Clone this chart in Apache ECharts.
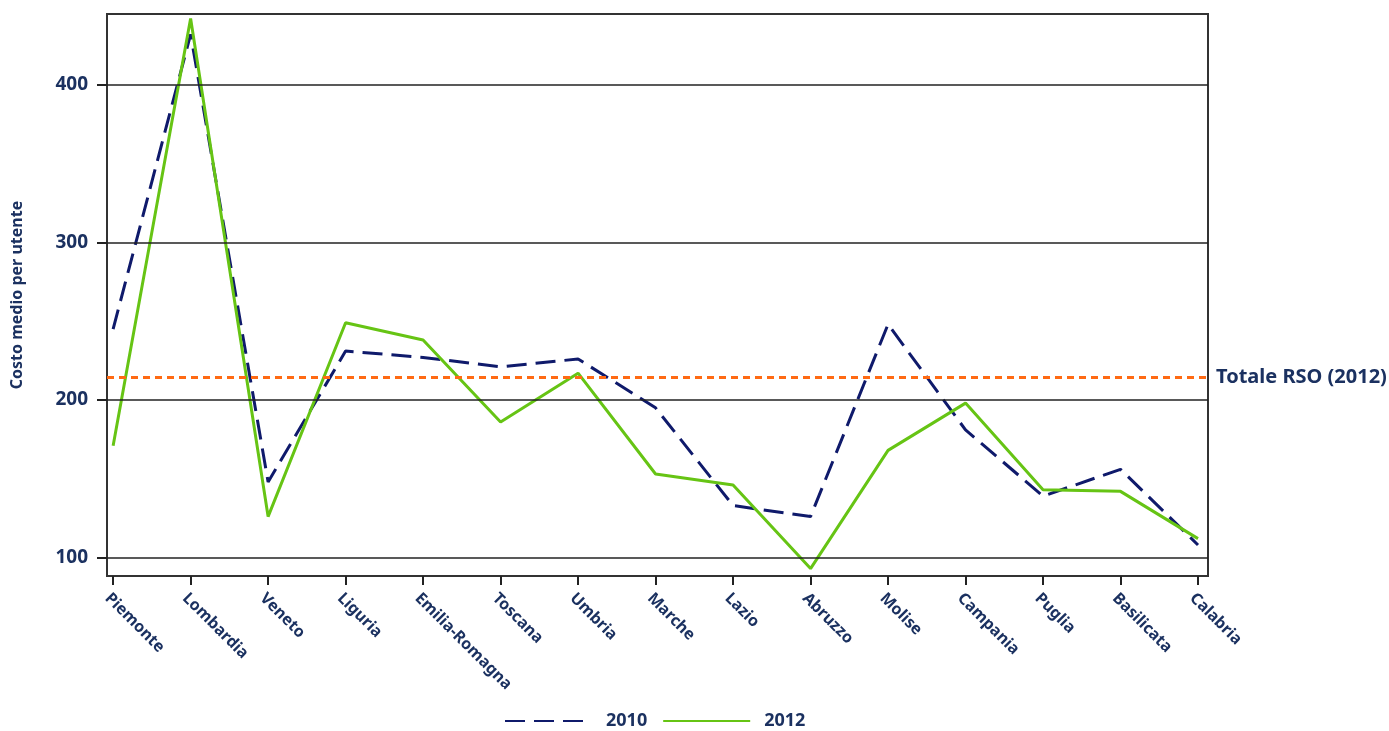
<!DOCTYPE html>
<html>
<head>
    <meta charset="UTF-8">
    <title>Costo medio per utente</title>
    <script src="https://cdn.jsdelivr.net/npm/echarts@6/dist/echarts.min.js"></script>
</head>
<body style="margin:0">
<div id="chart" style="width:1389px; height:731px;"></div>
<script>
    // regioni e valori
    var regioni = ['Piemonte', 'Lombardia', 'Veneto', 'Liguria', 'Emilia-Romagna', 'Toscana', 'Umbria',
        'Marche', 'Lazio', 'Abruzzo', 'Molise', 'Campania', 'Puglia', 'Basilicata', 'Calabria'];
    var valori2010 = [245, 432, 148, 231, 227, 221, 226, 195, 133, 126, 248, 181, 139, 156, 108];
    var valori2012 = [171, 442, 126, 249, 238, 186, 217, 153, 146, 93, 168, 198, 143, 142, 112];
    var totaleRSO = 214.5;
    var yTicks = [100, 200, 300, 400];

    var navy = '#1b3160';
    var txt = {color: navy, fontFamily: 'Noto Sans', fontWeight: 'bold'};

    function pairs(vals) {
        return vals.map(function (v, i) { return [i, v]; });
    }

    var chart = echarts.init(document.getElementById('chart'), null, {renderer: 'canvas'});
    var option = {
        animation: false,
        backgroundColor: '#fff',
        grid: {
            left: 107, right: 181, top: 14, bottom: 155,
            show: true, borderColor: '#333', borderWidth: 2
        },
        legend: {
            top: 707,
            left: 499,
            itemWidth: 87,
            itemHeight: 14,
            itemGap: 15,
            itemStyle: {opacity: 0},
            textStyle: Object.assign({fontSize: 18, padding: [0, 0, 0, 9]}, txt),
            data: ['2010', '2012']
        },
        xAxis: {
            type: 'value',
            min: -0.079,
            max: 14.129,
            splitLine: {show: false},
            axisLine: {show: true, onZero: false, lineStyle: {color: '#333', width: 2}},
            axisTick: {show: true, length: 9, customValues: regioni.map(function (r, i) { return i; }),
                lineStyle: {color: '#222', width: 2}},
            axisLabel: Object.assign({
                fontSize: 16,
                rotate: -45,
                margin: 14,
                verticalAlign: 'top',
                customValues: regioni.map(function (r, i) { return i; }),
                formatter: function (v) { return regioni[Math.round(v)]; }
            }, txt)
        },
        yAxis: {
            type: 'value',
            min: 88.3,
            max: 444.9,
            name: 'Costo medio per utente',
            nameLocation: 'middle',
            nameGap: 82,
            nameTextStyle: Object.assign({fontSize: 16}, txt),
            splitLine: {show: false},
            axisLine: {show: true, onZero: false, lineStyle: {color: '#333', width: 2}},
            axisTick: {show: true, length: 10, customValues: yTicks, lineStyle: {color: '#222', width: 2}},
            axisLabel: Object.assign({fontSize: 19, margin: 19, customValues: yTicks}, txt)
        },
        series: [{
            name: 'griglia',
            type: 'line',
            data: [],
            z: 1,
            markLine: {
                silent: true,
                symbol: 'none',
                label: {show: false},
                lineStyle: {color: '#222', width: 1.5, type: 'solid'},
                data: yTicks.map(function (v) { return {yAxis: v}; })
            }
        }, {
            name: 'totale',
            type: 'line',
            data: [],
            z: 2,
            markLine: {
                silent: true,
                symbol: 'none',
                lineStyle: {color: '#ff6a13', width: 3, type: [7, 5]},
                label: Object.assign({show: true, position: 'end', distance: 8, fontSize: 20,
                    formatter: 'Totale RSO (2012)'}, txt),
                data: [{yAxis: totaleRSO}]
            }
        }, {
            name: '2010',
            type: 'line',
            symbol: 'none',
            z: 3,
            color: '#0f1a6b',
            lineStyle: {color: '#0f1a6b', width: 3, type: [20, 9]},
            data: pairs(valori2010)
        }, {
            name: '2012',
            type: 'line',
            symbol: 'none',
            z: 4,
            color: '#66c414',
            lineStyle: {color: '#66c414', width: 3},
            data: pairs(valori2012)
        }]
    };
    chart.setOption(option);
</script>
</body>
</html>
